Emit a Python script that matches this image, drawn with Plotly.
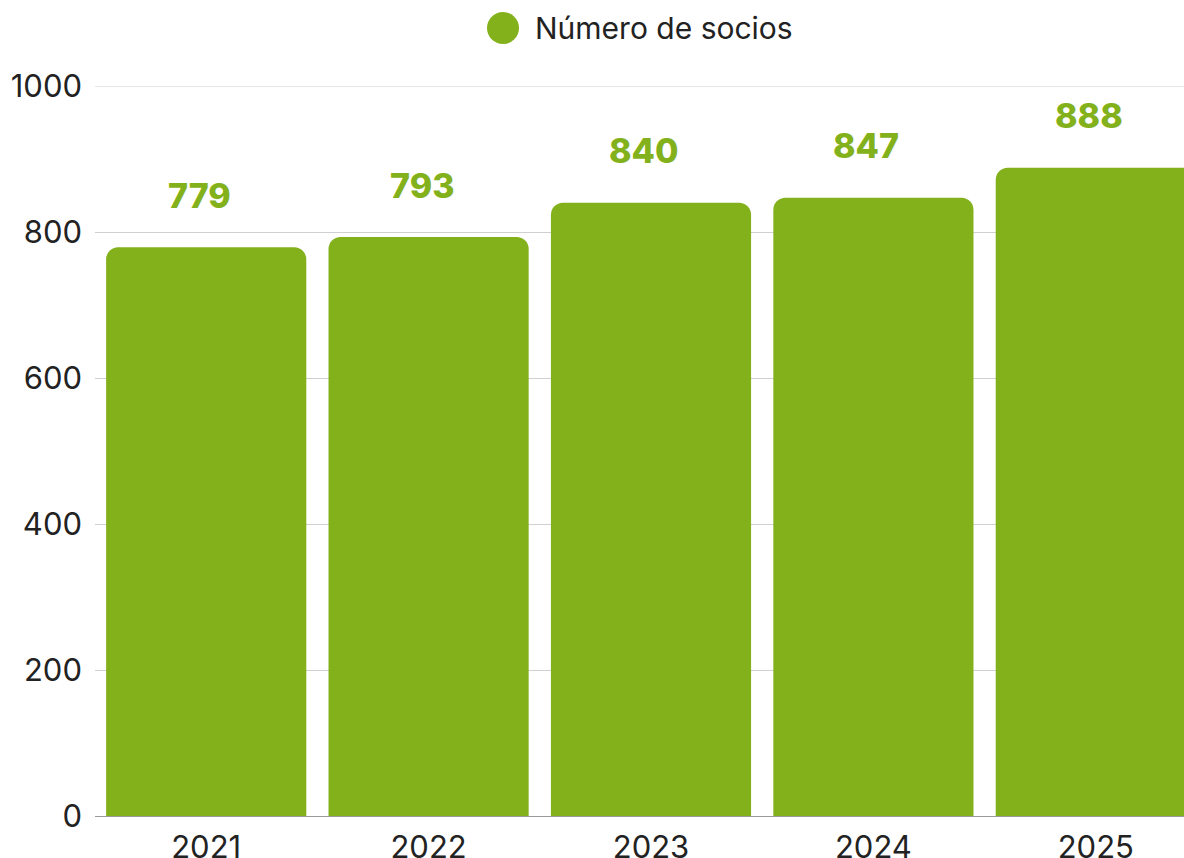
import plotly.graph_objects as go

years = ["2021", "2022", "2023", "2024", "2025"]
socios = [779, 793, 840, 847, 888]
series_name = "Número de socios"
y_ticks = [0, 200, 400, 600, 800, 1000]

GREEN = "#83B11C"
TXT = "#222222"
W, H = 1184, 858
ML, MR, MT, MB = 95, 0, 86, 42
pw = W - ML - MR
ph = H - MT - MB

fig = go.Figure()
fig.add_trace(go.Bar(
    x=years, y=socios, marker=dict(color=GREEN, line=dict(width=0)),
    showlegend=False, hoverinfo="x+y",
))

for i, v in enumerate(socios):
    fig.add_annotation(
        x=i, y=v, xref="x", yref="y", text=str(v), showarrow=False,
        yanchor="middle", xanchor="center", yshift=52, xshift=-7,
        font=dict(family="Inter, Roboto, sans-serif", size=34, color=GREEN, weight=800),
    )

# top gridline (at the edge of the range)
fig.add_shape(
    type="line", xref="paper", yref="y", x0=0, x1=1,
    y0=y_ticks[-1], y1=y_ticks[-1], layer="below",
    line=dict(color="#d0d0d0", width=1),
)

# manual legend
cx, cy, r = 503, 28, 16
fig.add_shape(
    type="circle", xref="paper", yref="paper",
    x0=(cx - r - ML) / pw, x1=(cx + r - ML) / pw,
    y0=(H - MB - (cy + r)) / ph, y1=(H - MB - (cy - r)) / ph,
    fillcolor=GREEN, line=dict(width=0),
)
fig.add_annotation(
    xref="paper", yref="paper", x=(533 - ML) / pw, y=(H - MB - cy) / ph,
    xanchor="left", yanchor="middle", showarrow=False, text=series_name,
    font=dict(family="Inter, Roboto, sans-serif", size=30, color=TXT),
)

fig.update_layout(
    width=W, height=H,
    margin=dict(l=ML, r=MR, t=MT, b=MB, pad=0),
    paper_bgcolor="white", plot_bgcolor="white",
    bargap=0.1, barcornerradius=12,
    font=dict(family="Inter, Roboto, sans-serif", size=31, color=TXT),
    showlegend=False,
)
fig.update_xaxes(
    type="category", automargin=False,
    range=[-0.5, (pw / 222.4) - 0.5], showgrid=False, ticks="",
    showline=False, tickfont=dict(size=31, color=TXT),
    ticklabelstandoff=10, fixedrange=True,
)
fig.update_yaxes(
    range=[0, 1000], tickvals=y_ticks, showgrid=True, gridcolor="#d0d0d0",
    gridwidth=1, zeroline=True, zerolinecolor="#999999", zerolinewidth=1,
    ticks="", ticklabelstandoff=12, tickfont=dict(size=31, color=TXT),
    showline=False, automargin=False,
)

fig.write_html(
    "out.html",
    config={"displayModeBar": False},
    post_script="document.body.style.margin='0';document.body.style.overflow='hidden';",
)
